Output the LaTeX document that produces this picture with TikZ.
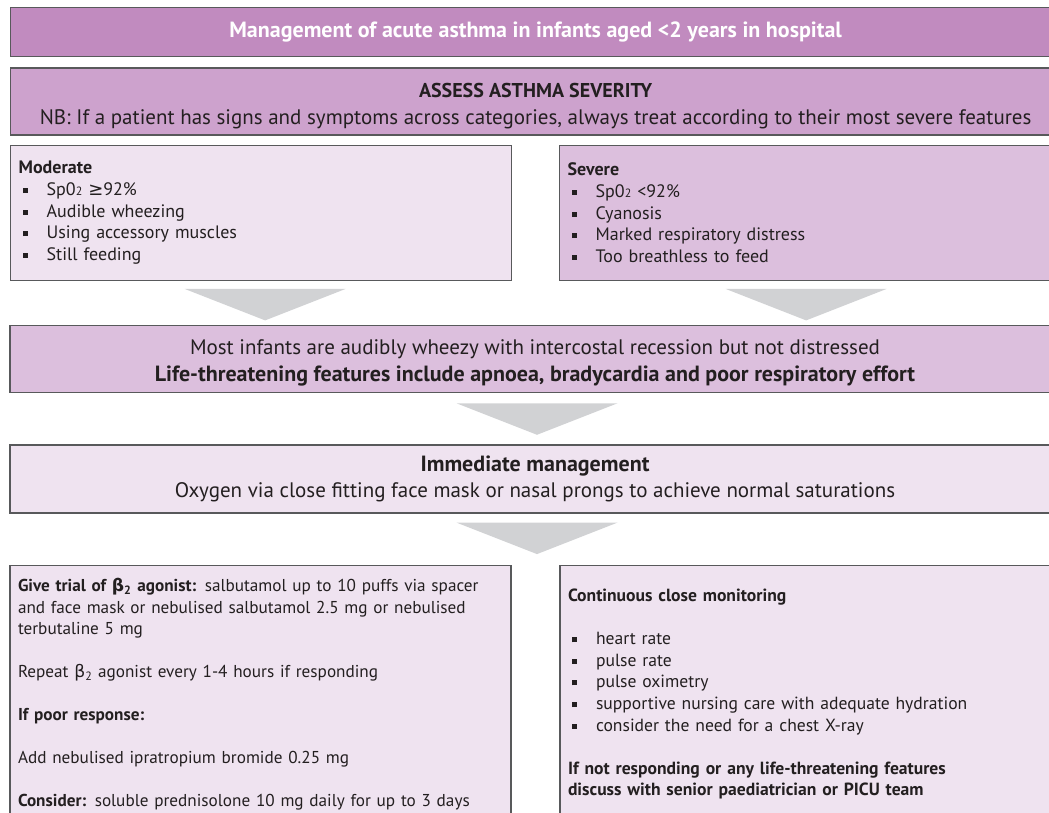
\documentclass[tikz,border=0pt]{standalone}
\usepackage{fontspec}
\setmainfont{PT Sans}
\newfontfamily\dvfont{DejaVu Sans}
\usetikzlibrary{positioning}

\definecolor{titlepurple}{HTML}{C18BBF}
\definecolor{assesspurple}{HTML}{CDA2CD}
\definecolor{midpurple}{HTML}{DCBFDD}
\definecolor{palepurple}{HTML}{EFE3F0}
\definecolor{chevgray}{HTML}{D1D2D4}
\definecolor{edgegray}{HTML}{58595B}
\definecolor{inkdark}{HTML}{231F20}

\newcommand{\sqbul}{\makebox[28pt][l]{\hspace*{4pt}\rule[2.5pt]{5pt}{5pt}}}
\newcommand{\subtwo}{{\fontsize{12}{12}\selectfont 2}}
\newcommand{\bighead}[1]{{\fontsize{22}{27}\selectfont\bfseries #1}}

\begin{document}
\begin{tikzpicture}[
    x=1pt, y=1pt,
    font=\fontsize{18}{21.6}\selectfont,
    text=inkdark,
    box/.style={draw=edgegray, line width=1.3pt, inner ysep=0pt},
    widebox/.style={box, inner xsep=0pt, minimum width=1050pt, align=center},
    halfbox/.style={box, inner xsep=8pt, text width=485pt, align=left},
    chev/.style={fill=chevgray},
]
\useasboundingbox (0,0) rectangle (1049,-813);
\clip (0,0) rectangle (1049,-813);

% Heading rows
\node[widebox, fill=titlepurple, minimum height=49pt, text=white, font=\fontsize{22}{26}\selectfont\bfseries, anchor=north west] (title) at (10,-7) {Management of acute asthma in infants aged <2 years in hospital};
\node[widebox, fill=assesspurple, minimum height=67pt, font=\fontsize{21}{27}\selectfont, below=10pt of title] (assess) {\rule{0pt}{24pt}{\fontsize{20}{27}\selectfont\bfseries ASSESS ASTHMA SEVERITY}\\ NB: If a patient has signs and symptoms across categories, always treat according to their most severe features};

% Severity categories
\node[halfbox, fill=palepurple, minimum height=135pt, below=9pt of assess.south west, anchor=north west] (moderate) {\textbf{Moderate}\\
\sqbul Sp0\subtwo\ {\dvfont ≥}92\%\\
\sqbul Audible wheezing\\
\sqbul Using accessory muscles\\
\sqbul Still feeding};
\node[halfbox, fill=midpurple, minimum height=135pt, below=9pt of assess.south east, anchor=north east] (severe) {\textbf{Severe}\\
\sqbul Sp0\subtwo\ <92\%\\
\sqbul Cyanosis\\
\sqbul Marked respiratory distress\\
\sqbul Too breathless to feed};

% Common features and first step
\node[widebox, fill=midpurple, minimum height=67pt, font=\fontsize{21}{27}\selectfont, anchor=north] (infants) at (535,-325) {\rule{0pt}{22pt}Most infants are audibly wheezy with intercostal recession but not distressed\\
\bighead{Life-threatening features include apnoea, bradycardia and poor respiratory effort}};
\node[widebox, fill=palepurple, minimum height=68pt, font=\fontsize{21}{26}\selectfont, below=51pt of infants] (immediate) {\bighead{Immediate management}\\
Oxygen via close fitting face mask or nasal prongs to achieve normal saturations};

% Treatment and monitoring
\node[halfbox, fill=palepurple, minimum height=258pt, font=\fontsize{17.2}{21.5}\selectfont, below=51pt of immediate.south west, anchor=north west] (trial) {\textbf{Give trial of {\dvfont β}\textsubscript{2} agonist:} salbutamol up to 10 puffs via spacer\\
and face mask or nebulised salbutamol 2.5 mg or nebulised\\
terbutaline 5 mg\\[21.5pt]
Repeat {\dvfont β}\textsubscript{2} agonist every 1-4 hours if responding\\[21.5pt]
\textbf{If poor response:}\\[21.5pt]
Add nebulised ipratropium bromide 0.25 mg\\[21.5pt]
\textbf{Consider:} soluble prednisolone 10 mg daily for up to 3 days};
\node[halfbox, fill=palepurple, minimum height=258pt, font=\fontsize{17.6}{21.6}\selectfont, below=51pt of immediate.south east, anchor=north east, xshift=1pt] (monitor) {\textbf{Continuous close monitoring}\\[21.6pt]
\sqbul heart rate\\
\sqbul pulse rate\\
\sqbul pulse oximetry\\
\sqbul supportive nursing care with adequate hydration\\
\sqbul consider the need for a chest X-ray\\[21.6pt]
\textbf{If not responding or any life-threatening features}\\
\textbf{discuss with senior paediatrician or PICU team}};

% Grey chevrons
\foreach \n/\dx/\gap in {moderate/4/8, severe/-4/8, infants/2/10, immediate/2/9}
  \fill[chev] ([xshift=\dx pt, yshift=-\gap pt]\n.south) +(-80.5,0) -- +(80.5,0) -- +(0,-31.5) -- cycle;
\end{tikzpicture}
\end{document}
